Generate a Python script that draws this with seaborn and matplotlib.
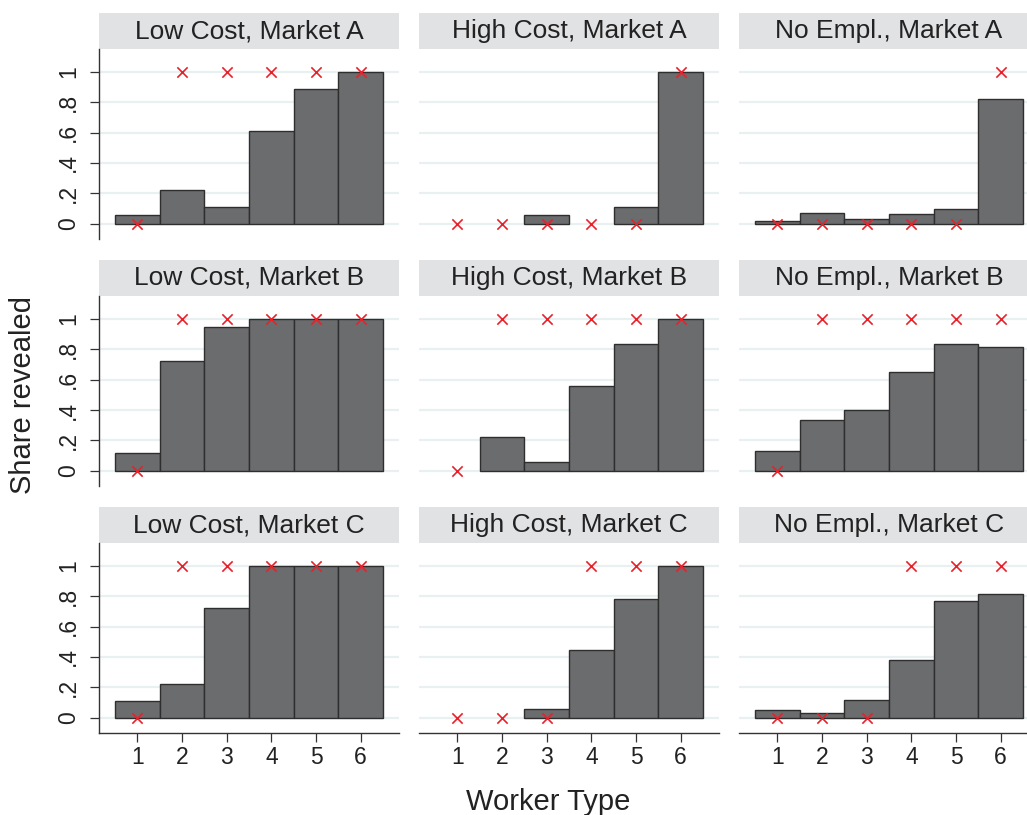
import numpy as np
import pandas as pd
import matplotlib
matplotlib.use("Agg")
import matplotlib.pyplot as plt
from matplotlib.patches import Rectangle
import seaborn as sns

# Worker types on the horizontal axis
worker_types = [1, 2, 3, 4, 5, 6]

# Panel layout: treatments (columns) x markets (rows)
treatments = ["Low Cost", "High Cost", "No Empl."]
markets = ["Market A", "Market B", "Market C"]

# Observed share of workers revealing their type
low_cost_a = [0.056, 0.222, 0.111, 0.611, 0.889, 1.0]
high_cost_a = [0.0, 0.0, 0.056, 0.0, 0.111, 1.0]
no_empl_a = [0.020, 0.068, 0.033, 0.066, 0.100, 0.820]

low_cost_b = [0.114, 0.724, 0.945, 1.0, 1.0, 1.0]
high_cost_b = [0.0, 0.223, 0.056, 0.556, 0.834, 1.0]
no_empl_b = [0.133, 0.335, 0.400, 0.650, 0.834, 0.816]

low_cost_c = [0.111, 0.225, 0.722, 1.0, 1.0, 1.0]
high_cost_c = [0.0, 0.0, 0.057, 0.446, 0.779, 1.0]
no_empl_c = [0.050, 0.033, 0.118, 0.383, 0.768, 0.814]

# Predicted (equilibrium) share revealed
pred_low_a = [0, 1, 1, 1, 1, 1]
pred_high_a = [0, 0, 0, 0, 0, 1]
pred_none_a = [0, 0, 0, 0, 0, 1]

pred_low_b = [0, 1, 1, 1, 1, 1]
pred_high_b = [0, 1, 1, 1, 1, 1]
pred_none_b = [0, 1, 1, 1, 1, 1]

pred_low_c = [0, 1, 1, 1, 1, 1]
pred_high_c = [0, 0, 0, 1, 1, 1]
pred_none_c = [0, 0, 0, 1, 1, 1]

ytick_values = [0, 0.2, 0.4, 0.6, 0.8, 1.0]
ytick_labels = ["0", ".2", ".4", ".6", ".8", "1"]

observed = [
    [low_cost_a, high_cost_a, no_empl_a],
    [low_cost_b, high_cost_b, no_empl_b],
    [low_cost_c, high_cost_c, no_empl_c],
]
predicted = [
    [pred_low_a, pred_high_a, pred_none_a],
    [pred_low_b, pred_high_b, pred_none_b],
    [pred_low_c, pred_high_c, pred_none_c],
]

sns.set_theme(style="white")
plt.rcParams["font.family"] = ["Liberation Sans", "DejaVu Sans"]

BAR_FILL = "#6b6c6e"
BAR_EDGE = "#2e2e2e"
MARK_RED = "#e8202a"
STRIP_BG = "#e1e2e4"
GRID_COL = "#e9f0f2"
TEXT_COL = "#222222"
AXIS_COL = "#333333"

W, H = 1027, 815
fig = plt.figure(figsize=(W / 100, H / 100), dpi=100)
fig.patch.set_facecolor("white")

col_left = [99, 419, 739]
row_top = [49, 296, 543]
ax_w, ax_h = 300, 190
strip_h = 36

for r in range(3):
    for c in range(3):
        left = col_left[c] / W
        bottom = 1 - (row_top[r] + ax_h) / H
        ax = fig.add_axes([left, bottom, ax_w / W, ax_h / H])

        df = pd.DataFrame({"type": worker_types, "share": observed[r][c]})
        bars = df[df["share"] > 0]
        sns.barplot(data=bars, x="type", y="share", native_scale=True,
                    width=1.0, color=BAR_FILL, saturation=1,
                    edgecolor=BAR_EDGE, linewidth=1.0, errorbar=None,
                    ax=ax, zorder=2)

        pdf = pd.DataFrame({"type": worker_types, "pred": predicted[r][c]})
        sns.scatterplot(data=pdf, x="type", y="pred", marker="x",
                        color=MARK_RED, s=55, linewidth=1.2, ax=ax,
                        zorder=4, legend=False)

        ax.set_xlim(0.143, 6.857)
        ax.set_ylim(-0.1, 1.15)
        ax.set_xlabel("")
        ax.set_ylabel("")
        ax.set_facecolor("white")

        ax.set_yticks(ytick_values)
        ax.set_axisbelow(True)
        ax.yaxis.grid(True, color=GRID_COL, linewidth=1.6)
        ax.xaxis.grid(False)

        for side in ["top", "right"]:
            ax.spines[side].set_visible(False)

        if c == 0:
            ax.spines["left"].set_visible(True)
            ax.spines["left"].set_color(AXIS_COL)
            ax.spines["left"].set_linewidth(1.0)
            ax.set_yticklabels(ytick_labels, rotation=90, va="center")
            ax.tick_params(axis="y", which="major", left=True, length=6.5,
                           width=0.9, color=AXIS_COL, pad=7,
                           labelsize=16.5, labelcolor=TEXT_COL)
        else:
            ax.spines["left"].set_visible(False)
            ax.tick_params(axis="y", left=False, labelleft=False)

        if r == 2:
            ax.spines["bottom"].set_visible(True)
            ax.spines["bottom"].set_color(AXIS_COL)
            ax.spines["bottom"].set_linewidth(1.0)
            ax.set_xticks(worker_types)
            ax.set_xticklabels([str(t) for t in worker_types])
            ax.tick_params(axis="x", bottom=True, length=6.5, width=0.9,
                           color=AXIS_COL, pad=3, labelsize=16.5,
                           labelcolor=TEXT_COL)
        else:
            ax.spines["bottom"].set_visible(False)
            ax.set_xticks(worker_types)
            ax.tick_params(axis="x", bottom=False, labelbottom=False)

        # Facet title strip above each panel
        sh = strip_h / ax_h
        ax.add_patch(Rectangle((0, 1), 1, sh, transform=ax.transAxes,
                               facecolor=STRIP_BG, edgecolor="none",
                               clip_on=False, zorder=1))
        ax.text(0.5, 1 + sh / 2, f"{treatments[c]}, {markets[r]}",
                transform=ax.transAxes, ha="center", va="center",
                fontsize=19, color=TEXT_COL)

fig.text(23 / W, 1 - 395 / H, "Share revealed", rotation=90,
         ha="center", va="center", fontsize=21, color=TEXT_COL)
fig.text(548 / W, 1 - 810 / H, "Worker Type", ha="center", va="baseline",
         fontsize=21, color=TEXT_COL)

fig.savefig("out.png", dpi=100, facecolor="white")
